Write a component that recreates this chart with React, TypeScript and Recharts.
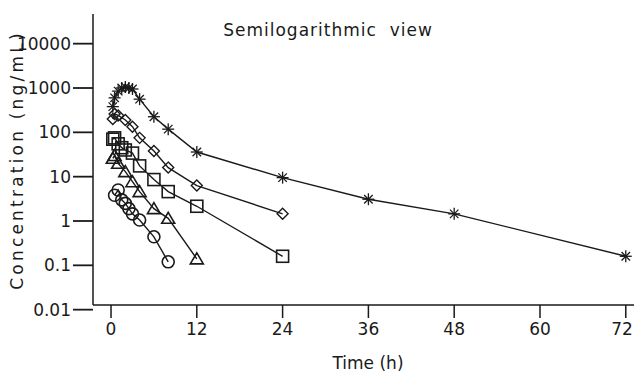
import { LineChart, Line, XAxis, YAxis } from "recharts";

// Time points (h) and concentrations (ng/mL) per dose group
const starTime = [0.25, 0.5, 1, 1.5, 2, 2.5, 3, 4, 6, 8, 12, 24, 36, 48, 72];
const starConc = [380, 600, 850, 1000, 1050, 1000, 950, 560, 225, 118, 36, 9.5, 3.1, 1.45, 0.16];

const diamondTime = [0.25, 0.5, 1, 2, 3, 4, 6, 8, 12, 24];
const diamondConc = [200, 260, 240, 190, 134, 75, 38, 16, 6.3, 1.45];

const squareTime = [0.25, 0.5, 1, 1.5, 2, 3, 4, 6, 8, 12, 24];
const squareConc = [70, 75, 55, 45, 40, 34, 17.5, 8.6, 4.6, 2.15, 0.16];

const triangleTime = [0.25, 0.5, 1, 2, 3, 4, 6, 8, 12];
const triangleConc = [26, 30, 20, 13, 7.7, 4.6, 1.9, 1.15, 0.14];

const circleTime = [0.5, 1, 1.5, 2, 2.5, 3, 4, 6, 8];
const circleConc = [3.8, 5.0, 3.0, 2.5, 1.9, 1.45, 1.05, 0.44, 0.12];

const xTicks = [0, 12, 24, 36, 48, 60, 72];
const yTicks = [0.01, 0.1, 1, 10, 100, 1000, 10000];

const toRows = (t: number[], c: number[]) => t.map((time, i) => ({ time, conc: c[i] }));

const FONT = "'DejaVu Sans', sans-serif";
const INK = "#1a1a1a";
const W = 634;
const H = 383;

const StarDot = (p: any) => {
  const { cx, cy } = p;
  if (cx == null || cy == null) return null;
  const r = 6;
  const d = r * 0.707;
  return (
    <g key={p.key} stroke={INK} strokeWidth={1.3}>
      <line x1={cx - r} y1={cy} x2={cx + r} y2={cy} />
      <line x1={cx} y1={cy - r} x2={cx} y2={cy + r} />
      <line x1={cx - d} y1={cy - d} x2={cx + d} y2={cy + d} />
      <line x1={cx - d} y1={cy + d} x2={cx + d} y2={cy - d} />
    </g>
  );
};

const DiamondDot = (p: any) => {
  const { cx, cy } = p;
  if (cx == null || cy == null) return null;
  const r = 5.5;
  return (
    <path key={p.key} d={`M${cx},${cy - r}L${cx + r},${cy}L${cx},${cy + r}L${cx - r},${cy}Z`}
      fill="none" stroke={INK} strokeWidth={1.4} />
  );
};

const SquareDot = (p: any) => {
  const { cx, cy } = p;
  if (cx == null || cy == null) return null;
  const h = 6;
  return <rect key={p.key} x={cx - h} y={cy - h} width={h * 2} height={h * 2} fill="none" stroke={INK} strokeWidth={1.6} />;
};

const TriangleDot = (p: any) => {
  const { cx, cy } = p;
  if (cx == null || cy == null) return null;
  return (
    <path key={p.key} d={`M${cx},${cy - 6}L${cx + 6.5},${cy + 5}L${cx - 6.5},${cy + 5}Z`}
      fill="none" stroke={INK} strokeWidth={1.6} />
  );
};

const CircleDot = (p: any) => {
  const { cx, cy } = p;
  if (cx == null || cy == null) return null;
  return <circle key={p.key} cx={cx} cy={cy} r={6} fill="none" stroke={INK} strokeWidth={1.6} />;
};

const series = [
  { name: "star", rows: toRows(starTime, starConc), dot: StarDot },
  { name: "diamond", rows: toRows(diamondTime, diamondConc), dot: DiamondDot },
  { name: "square", rows: toRows(squareTime, squareConc), dot: SquareDot },
  { name: "triangle", rows: toRows(triangleTime, triangleConc), dot: TriangleDot },
  { name: "circle", rows: toRows(circleTime, circleConc), dot: CircleDot },
];

// keep the last x label inside the picture
const XTick = (p: any) => {
  const { x, y, payload } = p;
  const label = String(payload.value);
  const half = label.length * 5.5;
  const tx = Math.min(x, W - half - 1);
  return (
    <text x={tx} y={y} dy="0.71em" textAnchor="middle" fill={INK} fontSize={17} fontFamily={FONT}>
      {label}
    </text>
  );
};

const fmtY = (v: number) => String(v);

export default function App() {
  return (
    <div style={{ position: "absolute", left: 0, top: 0, width: W, height: H, background: "#fff", fontFamily: FONT }}>
      <LineChart width={W} height={H} margin={{ top: 14, right: 0, bottom: 0, left: 0 }}>
        <XAxis
          dataKey="time"
          type="number"
          domain={[-2.52, 73.15]}
          allowDataOverflow
          ticks={xTicks}
          interval={0}
          height={78}
          tickSize={13}
          tickMargin={5}
          axisLine={{ stroke: INK, strokeWidth: 1.5 }}
          tickLine={{ stroke: INK, strokeWidth: 1.5 }}
          tick={XTick}
        />
        <YAxis
          dataKey="conc"
          scale="log"
          type="number"
          domain={[0.01274, 46700]}
          allowDataOverflow
          ticks={yTicks}
          interval={0}
          width={93}
          tickFormatter={fmtY}
          tickSize={20}
          tickMargin={2}
          axisLine={{ stroke: INK, strokeWidth: 1.5 }}
          tickLine={{ stroke: INK, strokeWidth: 1.8 }}
          tick={{ fill: INK, fontSize: 17, fontFamily: FONT }}
        />
        {series.map((s) => (
          <Line
            key={s.name}
            data={s.rows}
            dataKey="conc"
            stroke={INK}
            strokeWidth={1.4}
            dot={s.dot}
            activeDot={false}
            isAnimationActive={false}
          />
        ))}
      </LineChart>
      <div style={{ position: "absolute", left: 0, width: 656, top: 20, textAlign: "center", fontSize: 17, letterSpacing: 1, color: INK, whiteSpace: "pre" }}>
        Semilogarithmic  view
      </div>
      <div style={{ position: "absolute", left: 0, width: 736, top: 353, textAlign: "center", fontSize: 17, color: INK }}>
        Time (h)
      </div>
      <div
        style={{
          position: "absolute",
          left: 17,
          top: 160,
          transform: "translate(-50%, -50%) rotate(-90deg)",
          fontSize: 17,
          letterSpacing: 3.2,
          color: INK,
          whiteSpace: "nowrap",
        }}
      >
        Concentration (ng/mL)
      </div>
    </div>
  );
}
